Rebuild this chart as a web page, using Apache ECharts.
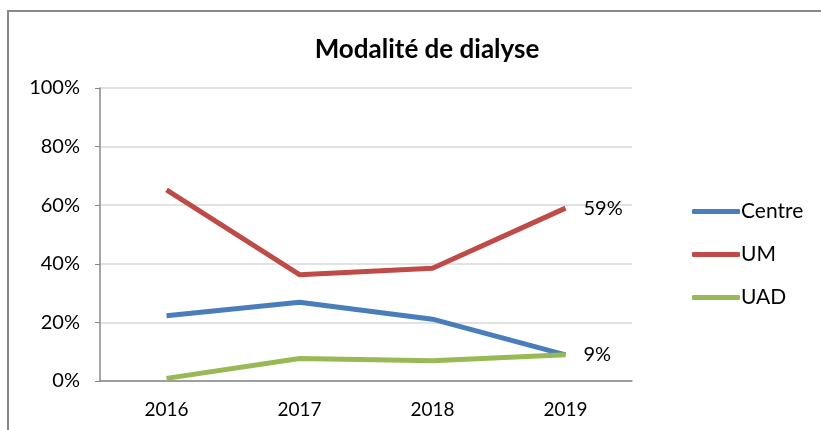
<!DOCTYPE html>
<html>
<head>
<meta charset="utf-8">
<script src="https://cdn.jsdelivr.net/npm/echarts@6/dist/echarts.min.js"></script>
<style>
  html, body { margin: 0; padding: 0; background: #fff; }
  #main { width: 821px; height: 430px; }
</style>
</head>
<body>
<div id="main"></div>
<script>
var years = ['2016', '2017', '2018', '2019'];
var centre = [22.3, 26.9, 21.1, 8.9];
var um = [65.2, 36.3, 38.5, 59];
var uad = [0.9, 7.7, 6.9, 9];
var yTicks = [0, 20, 40, 60, 80, 100];

var myChart = echarts.init(document.getElementById('main'));
var font = 'Lato';

// étiquette en bout de ligne (dernière valeur)
function endLbl() {
  return {
    show: true, distance: 18, fontFamily: font, fontSize: 20, color: '#000',
    formatter: function (p) { return Math.round(p.value) + '%'; }
  };
}

var option = {
  backgroundColor: '#fff',
  animation: false,
  graphic: [{
    type: 'rect',
    shape: { x: 8, y: 11, width: 840, height: 460 },
    style: { fill: 'none', stroke: '#888', lineWidth: 2 }
  }],
  title: {
    text: 'Modalité de dialyse',
    left: 422,
    textAlign: 'center',
    top: 32,
    textStyle: { fontFamily: font, fontSize: 26, fontWeight: 'bold', color: '#000' }
  },
  legend: {
    orient: 'vertical',
    left: 687,
    top: 196,
    itemWidth: 48,
    itemHeight: 5,
    itemGap: 22,
    icon: 'roundRect',
    data: ['Centre', 'UM', 'UAD'],
    textStyle: { fontFamily: font, fontSize: 21, color: '#000', padding: [0, 0, 0, -4] }
  },
  grid: { left: 100, right: 189, top: 88, bottom: 49 },
  xAxis: {
    type: 'category',
    data: years,
    boundaryGap: true,
    axisLine: { lineStyle: { color: '#888', width: 1.5 } },
    axisTick: { show: false },
    axisLabel: { fontFamily: font, fontSize: 19, color: '#000', margin: 19 }
  },
  yAxis: {
    type: 'value',
    min: 0,
    max: 100,
    interval: 20,
    axisLine: { show: true, lineStyle: { color: '#888', width: 1.5 } },
    axisTick: { show: true, inside: false, length: 5, lineStyle: { color: '#888' } },
    splitLine: { lineStyle: { color: '#d9d9d9', width: 1.5 } },
    axisLabel: {
      fontFamily: font, fontSize: 20, color: '#000', margin: 20,
      formatter: function (v) { return yTicks.indexOf(v) >= 0 ? v + '%' : ''; }
    }
  },
  series: [
    { name: 'Centre', type: 'line', data: centre, symbol: 'none',
      lineStyle: { width: 5, color: '#4A7EBB' }, itemStyle: { color: '#4A7EBB' } },
    { name: 'UM', type: 'line', data: um, symbol: 'none', endLabel: endLbl(),
      lineStyle: { width: 5, color: '#BE4B48' }, itemStyle: { color: '#BE4B48' } },
    { name: 'UAD', type: 'line', data: uad, symbol: 'none', endLabel: endLbl(),
      lineStyle: { width: 5, color: '#98B954' }, itemStyle: { color: '#98B954' } }
  ]
};

myChart.setOption(option);
</script>
</body>
</html>
